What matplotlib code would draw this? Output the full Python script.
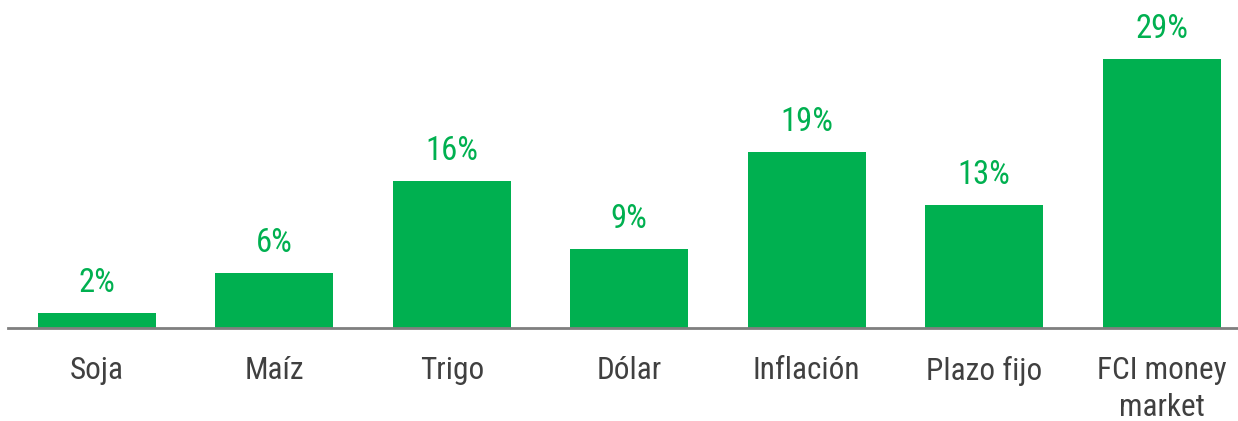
import numpy as np
import matplotlib.pyplot as plt

plt.rcParams['font.family'] = ['Roboto Condensed', 'Roboto', 'DejaVu Sans']

categories = ['Soja', 'Maíz', 'Trigo', 'Dólar', 'Inflación', 'Plazo fijo', 'FCI money\nmarket']
values = [1.6, 5.9, 15.9, 8.5, 19.0, 13.3, 29.0]
labels = ['2%', '6%', '16%', '9%', '19%', '13%', '29%']

green = '#00b050'

fig = plt.figure(figsize=(12.38, 4.21), dpi=100)
ax = fig.add_axes([8 / 1238, 93 / 421, 1 - 8 / 1238, 1 - 93 / 421])

x = np.arange(len(categories))
bars = ax.bar(x, values, width=0.665, color=green, zorder=2)

for xi, v, lab in zip(x, values, labels):
    ax.annotate(lab, (xi, v), xytext=(0, 10), textcoords='offset points',
                ha='center', va='bottom', fontsize=23.5, color=green)

ax.set_xlim(-0.50, 6.43)
ax.set_ylim(0, 35.36)
ax.set_xticks(x)
ax.set_xticklabels(categories, fontsize=22.5, color='#404040', linespacing=1.33)
ax.tick_params(axis='x', length=0, pad=20.5)
ax.set_yticks([])
for s in ['top', 'right', 'left']:
    ax.spines[s].set_visible(False)
ax.spines['bottom'].set_color('#7f7f7f')
ax.spines['bottom'].set_linewidth(2)
ax.spines['bottom'].set_zorder(3)

fig.savefig('out.png', dpi=100)
